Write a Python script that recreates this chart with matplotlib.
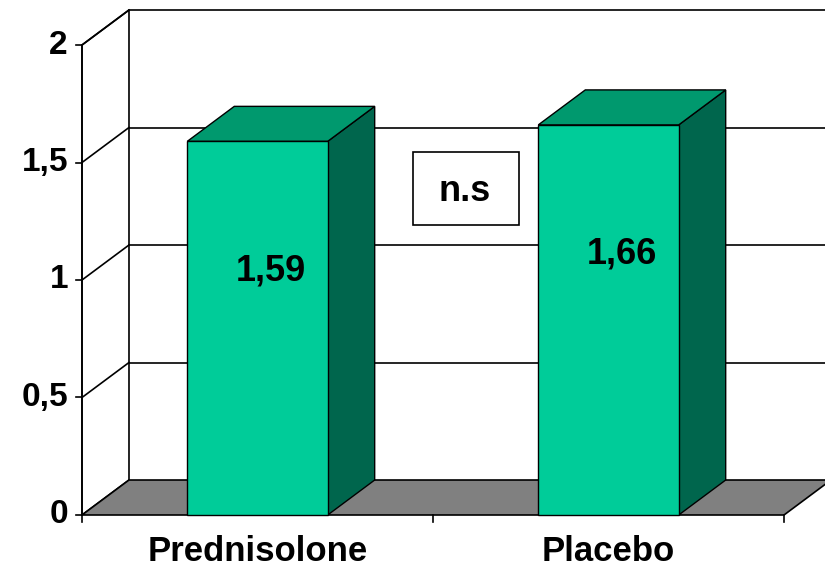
import matplotlib
matplotlib.use("Agg")
import matplotlib.pyplot as plt
from matplotlib.patches import Polygon, Rectangle

# Data
categories = ["Prednisolone", "Placebo"]
values = [1.59, 1.66]
value_labels = ["1,59", "1,66"]
yticks = [0, 0.5, 1, 1.5, 2]
ytick_labels = ["0", "0,5", "1", "1,5", "2"]
annotation = "n.s"

# Styling
FRONT = "#00CC99"
TOP = "#00996E"
SIDE = "#00664D"
FLOOR = "#808080"
FONT = "Liberation Sans"

fig = plt.figure(figsize=(8.25, 5.69), dpi=100)
ax = fig.add_axes([0, 0, 1, 1])
ax.set_xlim(-0.7336, 1.6168)
ax.set_ylim(-0.2298, 2.1915)
ax.axis("off")

# depth offset of the pseudo-3D box (data units)
DX, DY = 0.1339, 0.1489
x0, x1 = -0.5, len(categories) - 0.5
ymax = yticks[-1]
x_far = x1 + 0.3
lw = 1.2

# left wall
ax.add_patch(Polygon([(x0, 0), (x0, ymax), (x0 + DX, ymax + DY), (x0 + DX, DY)],
                     closed=True, fc="white", ec="black", lw=lw, zorder=1))
# back wall top edge and gridlines
for v in yticks[1:]:
    ax.plot([x0 + DX, x_far], [v + DY, v + DY], color="black", lw=lw, zorder=1)
    ax.plot([x0, x0 + DX], [v, v + DY], color="black", lw=lw, zorder=1)

# floor
ax.add_patch(Polygon([(x0, 0), (x0 + DX, DY), (x1 + DX, DY), (x1, 0)],
                     closed=True, fc=FLOOR, ec="black", lw=lw, zorder=2))
ax.plot([x1 + DX, x_far], [DY, DY], color="black", lw=lw, zorder=2)

# axis ticks
tick_dx = 0.018
tick_dy = 0.03
for v in yticks:
    ax.plot([x0 - tick_dx, x0], [v, v], color="black", lw=lw, zorder=3)
for xb in [x0 + k for k in range(len(categories) + 1)]:
    ax.plot([xb, xb], [0, -tick_dy], color="black", lw=lw, zorder=3)
ax.plot([x0, x0], [0, ymax], color="black", lw=lw, zorder=3)

# tick labels
for v, lab in zip(yticks, ytick_labels):
    ax.text(x0 - 0.04, v, lab, ha="right", va="center", fontsize=24,
            fontweight="bold", family=FONT)

# bars
bw = 0.4
for i, (v, lab) in enumerate(zip(values, value_labels)):
    l, r = i - bw / 2, i + bw / 2
    ax.add_patch(Polygon([(r, 0), (r + DX, DY), (r + DX, v + DY), (r, v)],
                         closed=True, fc=SIDE, ec="black", lw=1.0, zorder=4))
    ax.add_patch(Polygon([(l, v), (l + DX, v + DY), (r + DX, v + DY), (r, v)],
                         closed=True, fc=TOP, ec="black", lw=1.0, zorder=4))
    ax.add_patch(Rectangle((l, 0), bw, v, fc=FRONT, ec="black", lw=1.0, zorder=5))
    ax.text(i + 0.037, v - 0.55, lab, ha="center", va="center", fontsize=26,
            fontweight="bold", family=FONT, zorder=6)
    ax.text(i, -0.157, categories[i], ha="center", va="center", fontsize=25,
            fontweight="bold", family=FONT)

# significance box
bx, by, bwid, bht = 0.443, 1.234, 0.302, 0.311
ax.add_patch(Rectangle((bx, by), bwid, bht, fc="white", ec="black", lw=1.2, zorder=6))
ax.text(bx + bwid / 2 - 0.005, by + bht / 2 - 0.015, annotation, ha="center", va="center",
        fontsize=26, fontweight="bold", family=FONT, zorder=7)

fig.savefig("out.png", dpi=100)
